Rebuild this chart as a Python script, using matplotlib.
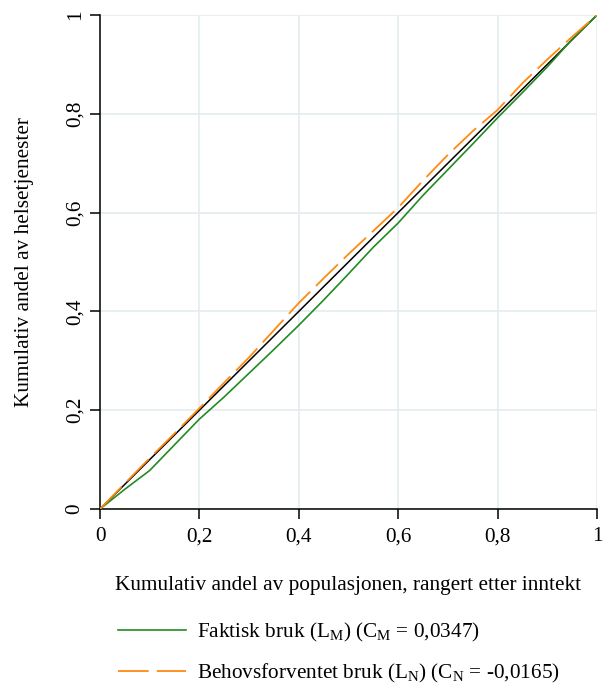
import matplotlib
matplotlib.use("Agg")
import matplotlib.pyplot as plt

plt.rcParams['font.family'] = ['Liberation Serif', 'DejaVu Serif']
plt.rcParams['mathtext.fontset'] = 'custom'
plt.rcParams['mathtext.rm'] = 'Liberation Serif'
plt.rcParams['mathtext.it'] = 'Liberation Serif:italic'

# Data: cumulative population share (ranked by income) and cumulative share of health services
pop_share = [0.0, 0.05, 0.10, 0.15, 0.20, 0.25, 0.30, 0.35, 0.40, 0.45, 0.50,
             0.55, 0.60, 0.65, 0.70, 0.75, 0.80, 0.85, 0.90, 0.95, 1.0]
faktisk = [0.0, 0.040, 0.078, 0.130, 0.182, 0.227, 0.275, 0.323, 0.372, 0.423, 0.476,
           0.530, 0.579, 0.635, 0.687, 0.739, 0.792, 0.843, 0.895, 0.951, 1.0]
behov = [0.0, 0.052, 0.103, 0.153, 0.204, 0.256, 0.307, 0.362, 0.417, 0.467, 0.516,
         0.563, 0.610, 0.665, 0.717, 0.765, 0.808, 0.862, 0.910, 0.956, 1.0]
equality = [0.0, 1.0]

xlabel = "Kumulativ andel av populasjonen, rangert etter inntekt"
ylabel = "Kumulativ andel av helsetjenester"
ticks = [0, 0.2, 0.4, 0.6, 0.8, 1]
tick_labels = ["0", "0,2", "0,4", "0,6", "0,8", "1"]
label_faktisk = r"Faktisk bruk (L$_{\mathrm{M}}$) (C$_{\mathrm{M}}$ = 0,0347)"
label_behov = r"Behovsforventet bruk (L$_{\mathrm{N}}$) (C$_{\mathrm{N}}$ = -0,0165)"

FS = 15.3
fig = plt.figure(figsize=(6.05, 6.84), dpi=100)
ax = fig.add_axes([100/605, 1-509/684, 497/605, 494/684])

ax.plot(equality, equality, color='black', lw=1.1, zorder=3)
l1, = ax.plot(pop_share, faktisk, color='#228B22', lw=1.2, zorder=4)
l2, = ax.plot(pop_share, behov, color='#ff8a12', lw=1.3, zorder=5,
              dashes=(17, 4.5))

ax.set_xlim(0, 1)
ax.set_ylim(0, 1)
ax.set_xticks(ticks)
ax.set_xticklabels(tick_labels, fontsize=FS)
ax.set_yticks(ticks)
ax.set_yticklabels(tick_labels, fontsize=FS, rotation=90, va='center')
ax.grid(True, color='#e4ecef', lw=1.2)
ax.set_axisbelow(True)
for s in ['top', 'right']:
    ax.spines[s].set_visible(False)
for s in ['left', 'bottom']:
    ax.spines[s].set_linewidth(1.1)
ax.tick_params(direction='out', length=7, width=1.1, pad=6)
ax.tick_params(axis='y', pad=4)

ax.set_xlabel(xlabel, fontsize=FS, labelpad=21.5)
ax.set_ylabel(ylabel, fontsize=FS, labelpad=23)

fig.legend(handles=[l1, l2], labels=[label_faktisk, label_behov],
           loc='upper left', bbox_to_anchor=(109/605, 1-612/684),
           frameon=False, fontsize=FS, handlelength=3.2, handletextpad=0.55,
           labelspacing=0.88, borderaxespad=0)

fig.savefig("out.png", dpi=100)
